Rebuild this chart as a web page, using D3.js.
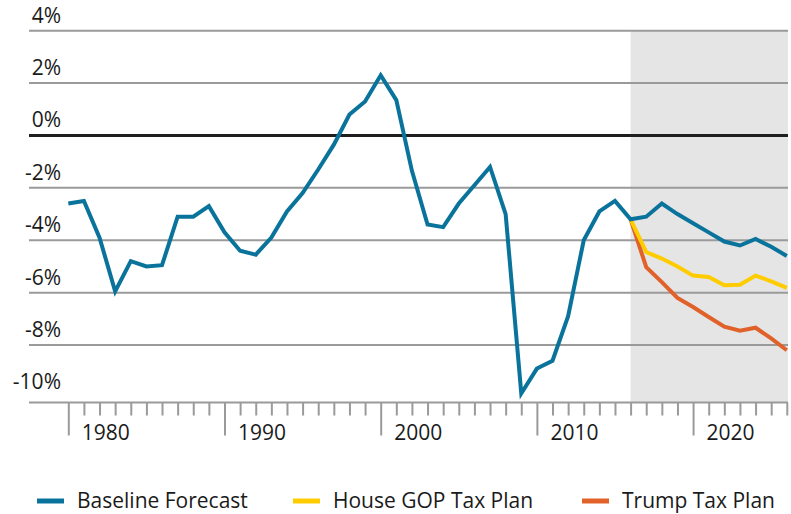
<!DOCTYPE html>
<html>
<head>
<meta charset="utf-8">
<script src="https://cdn.jsdelivr.net/npm/d3@7"></script>
<style>
  body { margin: 0; background: #fff; }
  text { font-family: "Open Sans", sans-serif; fill: #1a1a1a; }
</style>
</head>
<body>
<script>
// data, deficit as % of GDP
var years = d3.range(1980, 2027);
var baseline = [-2.6, -2.5, -3.9, -5.95, -4.8, -5.0, -4.95, -3.1, -3.1, -2.7,
                -3.7, -4.4, -4.55, -3.9, -2.9, -2.2, -1.3, -0.35, 0.8, 1.3,
                2.3, 1.35, -1.35, -3.4, -3.5, -2.6, -1.9, -1.2, -3.0, -9.85,
                -8.9, -8.6, -6.9, -4.0, -2.9, -2.5, -3.2, -3.1, -2.6, -3.0,
                -3.35, -3.7, -4.05, -4.2, -3.95, -4.25, -4.6];
var planYears = d3.range(2016, 2027);
var houseGop = [-3.2, -4.45, -4.7, -5.0, -5.35, -5.4, -5.72, -5.7, -5.35, -5.57, -5.82];
var trump = [-3.2, -5.03, -5.6, -6.2, -6.55, -6.93, -7.3, -7.45, -7.34, -7.75, -8.2];
var yTicks = [4, 2, 0, -2, -4, -6, -8, -10];
var legendNames = ["Baseline Forecast", "House GOP Tax Plan", "Trump Tax Plan"];
var colors = ["#0a739b", "#ffcc00", "#e0622a"];

var W = 791, H = 514;
var left = 29, right = 788, axisY = 402.5;

var svg = d3.select("body").append("svg")
    .attr("width", W)
    .attr("height", H);

var x = d3.scaleLinear()
    .domain([1980, 2026])
    .range([68.3, 786.8]);

var y = d3.scaleLinear()
    .domain([-10, 4])
    .range([397.4, 30.7]);

// forecast period shading
svg.append("rect")
    .attr("x", x(2016))
    .attr("y", y(4))
    .attr("width", right - x(2016))
    .attr("height", axisY - y(4))
    .attr("fill", "#e5e5e5");

// gridlines
svg.selectAll(".grid")
    .data(yTicks.filter(function(d) { return d > -10; }))
  .enter().append("line")
    .attr("x1", left)
    .attr("x2", right)
    .attr("y1", function(d) { return y(d); })
    .attr("y2", function(d) { return y(d); })
    .attr("stroke", function(d) { return d === 0 ? "#1f1f1f" : "#9a9a9a"; })
    .attr("stroke-width", function(d) { return d === 0 ? 3 : 2; });

svg.selectAll(".ylab")
    .data(yTicks)
  .enter().append("text")
    .attr("x", 61)
    .attr("y", function(d) { return y(d) - 8; })
    .attr("text-anchor", "end")
    .style("font-size", "21px")
    .text(function(d) { return d + "%"; });

// x axis
var xAxis = svg.append("g")
    .attr("transform", "translate(0," + axisY + ")")
    .call(d3.axisBottom(x).tickValues(years).tickSize(13).tickFormat(""));

xAxis.select(".domain").remove();
xAxis.selectAll(".tick line")
    .attr("stroke", "#9a9a9a")
    .attr("stroke-width", 2)
    .attr("y2", function(d) { return d % 10 === 0 ? 33 : 13; });

xAxis.append("line")
    .attr("x1", left)
    .attr("x2", right)
    .attr("stroke", "#9a9a9a")
    .attr("stroke-width", 2);

xAxis.selectAll(".tick")
    .filter(function(d) { return d % 10 === 0; })
    .append("text")
    .attr("x", 13)
    .attr("y", 37.5)
    .attr("text-anchor", "start")
    .style("font-size", "21px")
    .style("fill", "#1a1a1a")
    .text(function(d) { return d; });

// lines
var line = d3.line()
    .x(function(d) { return x(d[0]); })
    .y(function(d) { return y(d[1]); });

var series = [
  d3.zip(years, baseline),
  d3.zip(planYears, houseGop),
  d3.zip(planYears, trump)
];

// draw plans first so the baseline sits on top
[2, 1, 0].forEach(function(i) {
  svg.append("path")
      .datum(series[i])
      .attr("d", line)
      .attr("fill", "none")
      .attr("stroke", colors[i])
      .attr("stroke-width", 4);
});

// legend
var legendX = [37, 293, 582];
var lg = svg.selectAll(".legend")
    .data(legendNames)
  .enter().append("g")
    .attr("transform", function(d, i) { return "translate(" + legendX[i] + ",501)"; });

lg.append("line")
    .attr("x1", 0)
    .attr("x2", 27)
    .attr("stroke", function(d, i) { return colors[i]; })
    .attr("stroke-width", 5);

lg.append("text")
    .attr("x", 40)
    .attr("y", 6.5)
    .style("font-size", "21px")
    .text(function(d) { return d; });
</script>
</body>
</html>
